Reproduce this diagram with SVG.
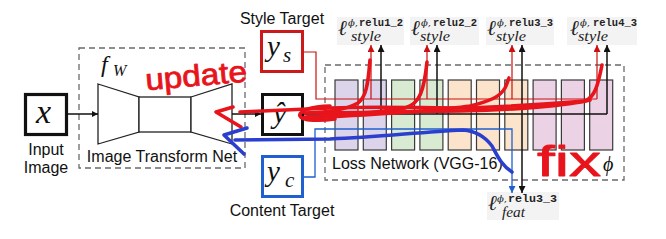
<svg xmlns="http://www.w3.org/2000/svg" width="666" height="239" viewBox="0 0 666 239">
<defs>
<style>
.lbl{font-family:"Liberation Sans",Arial,sans-serif;font-size:16px;fill:#111}
.math{font-family:"Liberation Serif","DejaVu Serif",serif;font-style:italic;fill:#111}
.ml{fill:#222}
.ell{font-family:"DejaVu Serif","Liberation Serif",serif;font-style:italic;font-size:21px}
.phi{font-family:"DejaVu Serif","Liberation Serif",serif;font-style:italic;font-size:10px}
.relu{font-family:"Liberation Mono","DejaVu Sans Mono",monospace;font-style:normal;font-weight:bold;font-size:11px}
.sub{font-family:"Liberation Serif","DejaVu Serif",serif;font-style:italic;font-size:14px}
.dash{fill:none;stroke:#6a6a6a;stroke-width:1.3;stroke-dasharray:6 4}
.blk{stroke:#3a3a3a;stroke-width:1.2}
.bg{fill:#f3f3f3}
.k{fill:none;stroke:#111;stroke-width:1.5}
.r{fill:none;stroke:#cc1010;stroke-width:1.2}
.b{fill:none;stroke:#1f5fd0;stroke-width:1.3}
.scr{fill:none;stroke:#e8141c;stroke-width:3.6;stroke-linecap:round;stroke-linejoin:round}
.scb{fill:none;stroke:#2b3fcf;stroke-width:3.6;stroke-linecap:round;stroke-linejoin:round}
.hand{font-family:"Liberation Sans",Arial,sans-serif;fill:#e8141c;stroke:#e8141c;stroke-width:0.8;stroke-linejoin:round}
</style>
<marker id="ak" viewBox="0 0 10 10" refX="10" refY="5" markerWidth="6" markerHeight="6" markerUnits="userSpaceOnUse" orient="auto"><path d="M0,0 L10,5 L0,10 z" fill="#111"/></marker>
<marker id="ak2" viewBox="0 0 10 10" refX="10" refY="5" markerWidth="7" markerHeight="7" markerUnits="userSpaceOnUse" orient="auto"><path d="M0,0 L10,5 L0,10 z" fill="#111"/></marker>
<marker id="ar" viewBox="0 0 10 10" refX="10" refY="5" markerWidth="7" markerHeight="7" markerUnits="userSpaceOnUse" orient="auto"><path d="M0,0 L10,5 L0,10 z" fill="#cc1010"/></marker>
<marker id="ab" viewBox="0 0 10 10" refX="10" refY="5" markerWidth="7" markerHeight="7" markerUnits="userSpaceOnUse" orient="auto"><path d="M0,0 L10,5 L0,10 z" fill="#1f5fd0"/></marker>
</defs>
<rect width="666" height="239" fill="#fff"/>

<g id="node-loss-network">
<rect class="dash" x="325" y="65" width="299" height="115"/>
<rect class="blk" x="335" y="80" width="23" height="70" fill="#dcd4ea"/>
<rect class="blk" x="363.3" y="80" width="23" height="70" fill="#dcd4ea"/>
<rect class="blk" x="391.6" y="80" width="23" height="70" fill="#d8ebd2"/>
<rect class="blk" x="419.9" y="80" width="23" height="70" fill="#d8ebd2"/>
<rect class="blk" x="448.2" y="80" width="23" height="70" fill="#fbe4cb"/>
<rect class="blk" x="476.5" y="80" width="23" height="70" fill="#fbe4cb"/>
<rect class="blk" x="504.8" y="80" width="23" height="70" fill="#fbe4cb"/>
<rect class="blk" x="533.1" y="80" width="23" height="70" fill="#ebd2e4"/>
<rect class="blk" x="561.4" y="80" width="23" height="70" fill="#ebd2e4"/>
<rect class="blk" x="589.7" y="80" width="23" height="70" fill="#ebd2e4"/>
<text class="lbl" x="332" y="169">Loss Network (VGG-16)</text>
<text class="math" x="603" y="171" font-size="20">ϕ</text>
</g>

<g id="node-input">
<rect x="25.5" y="94.5" width="41" height="40" fill="#fff" stroke="#111" stroke-width="3.2"/>
<text class="math" x="36" y="123" font-size="34">x</text>
<text class="lbl" x="46" y="155" text-anchor="middle">Input</text>
<text class="lbl" x="46" y="173" text-anchor="middle">Image</text>
</g>

<g id="node-transform-net">
<rect class="dash" x="79" y="48" width="166" height="120"/>
<text class="math" x="101" y="72" font-size="24">f<tspan x="113" y="76" font-size="16">W</tspan></text>
<path d="M98,84 L139,97 L139,132 L98,144 Z" fill="#fff" stroke="#222" stroke-width="1.3"/>
<rect x="139" y="97" width="52" height="35" fill="#fff" stroke="#222" stroke-width="1.3"/>
<path d="M191,97 L232,84 L232,144 L191,132 Z" fill="#fff" stroke="#222" stroke-width="1.3"/>
<text class="lbl" x="162" y="162" text-anchor="middle">Image Transform Net</text>
</g>

<g id="node-yhat">
<rect x="262.5" y="94.5" width="40" height="40" fill="#fff" stroke="#111" stroke-width="3"/>
<text class="math" x="273" y="123" font-size="30">ŷ</text>
</g>

<g id="node-style-target">
<text class="lbl" x="282" y="24" text-anchor="middle">Style Target</text>
<rect x="261.5" y="31.5" width="41" height="40" fill="#fff" stroke="#cc1a1a" stroke-width="3"/>
<text class="math" x="267" y="56" font-size="29">y<tspan x="283" y="62" font-size="21">s</tspan></text>
</g>

<g id="node-content-target">
<rect x="262.5" y="156.5" width="40" height="40" fill="#fff" stroke="#1f5fd0" stroke-width="3"/>
<text class="math" x="267" y="181" font-size="29">y<tspan x="285" y="187" font-size="21">c</tspan></text>
<text class="lbl" x="282" y="216" text-anchor="middle">Content Target</text>
</g>

<g id="loss-labels">
<rect class="bg" x="337" y="17" width="67" height="28"/>
<text class="ml ell" x="338" y="35">ℓ<tspan class="phi" x="348" y="26">ϕ,</tspan><tspan class="relu" x="359" y="26" textLength="44" lengthAdjust="spacingAndGlyphs">relu1_2</tspan><tspan class="sub" x="351" y="41" textLength="30" lengthAdjust="spacingAndGlyphs">style</tspan></text>

<rect class="bg" x="410" y="17" width="69" height="28"/>
<text class="ml ell" x="411" y="35">ℓ<tspan class="phi" x="421" y="26">ϕ,</tspan><tspan class="relu" x="433" y="26" textLength="44" lengthAdjust="spacingAndGlyphs">relu2_2</tspan><tspan class="sub" x="420" y="41" textLength="30" lengthAdjust="spacingAndGlyphs">style</tspan></text>

<rect class="bg" x="486" y="17" width="68" height="28"/>
<text class="ml ell" x="487" y="35">ℓ<tspan class="phi" x="497" y="26">ϕ,</tspan><tspan class="relu" x="509" y="26" textLength="44" lengthAdjust="spacingAndGlyphs">relu3_3</tspan><tspan class="sub" x="496" y="41" textLength="30" lengthAdjust="spacingAndGlyphs">style</tspan></text>

<rect class="bg" x="567" y="17" width="70" height="28"/>
<text class="ml ell" x="570" y="35">ℓ<tspan class="phi" x="580" y="26">ϕ,</tspan><tspan class="relu" x="593" y="26" textLength="44" lengthAdjust="spacingAndGlyphs">relu4_3</tspan><tspan class="sub" x="578" y="41" textLength="30" lengthAdjust="spacingAndGlyphs">style</tspan></text>

<rect class="bg" x="487" y="192" width="72" height="28"/>
<text class="ml ell" x="488" y="210">ℓ<tspan class="phi" x="497" y="202">ϕ,</tspan><tspan class="relu" x="508" y="202" textLength="49" lengthAdjust="spacingAndGlyphs">relu3_3</tspan><tspan class="sub" x="502" y="217" textLength="23" lengthAdjust="spacingAndGlyphs">feat</tspan></text>
</g>

<g id="connectors">
<line class="k" x1="68" y1="114" x2="98" y2="114" marker-end="url(#ak)"/>
<line class="k" x1="232" y1="114" x2="261" y2="114" marker-end="url(#ak)"/>
<path class="r" d="M304,52 H316 V99 H597"/>
<line class="r" x1="371" y1="99" x2="371" y2="45" marker-end="url(#ar)"/>
<line class="r" x1="427" y1="99" x2="427" y2="45" marker-end="url(#ar)"/>
<line class="r" x1="512" y1="99" x2="512" y2="45" marker-end="url(#ar)"/>
<line class="r" x1="597" y1="99" x2="597" y2="45" marker-end="url(#ar)"/>
<path class="k" d="M304,114 H607"/>
<line class="k" x1="381" y1="114" x2="381" y2="45" marker-end="url(#ak2)"/>
<line class="k" x1="437" y1="114" x2="437" y2="45" marker-end="url(#ak2)"/>
<line class="k" x1="522" y1="114" x2="522" y2="45" marker-end="url(#ak2)"/>
<line class="k" x1="607" y1="114" x2="607" y2="45" marker-end="url(#ak2)"/>
<line class="k" x1="522" y1="114" x2="522" y2="193" marker-end="url(#ak2)"/>
<path class="b" d="M304,177 H315 V129 H512 V193" marker-end="url(#ab)"/>
</g>

<g id="annotations">
<text class="hand" x="145" y="86" font-size="30" textLength="102" lengthAdjust="spacingAndGlyphs" transform="rotate(-5 195 75)">update</text>
<path class="scr" d="M233,107 L216,112 L241,127"/>
<path class="scr" d="M240,112 L330,108 C 380,106 420,108 470,108 C 520,106 560,103 585,101 C 595,97 598,85 602,65"/>
<path class="scr" d="M330,106 C 310,106 298,112 300,116 C 302,121 320,121 335,119"/>
<path class="scr" d="M305,113 C 330,112 345,110 358,103 C 366,97 368,85 370,60"/>
<path class="scr" d="M305,117 C 340,115 380,113 405,108 C 420,104 424,90 427,62"/>
<path class="scr" d="M310,118 C 360,115 430,112 470,106 C 490,101 500,97 505,88 C 507,84 508,80 509,78"/>
<path class="scr" d="M320,113 C 380,112 430,111 460,111 C 520,110 570,105 590,100"/>
<text class="hand" x="537" y="176" font-size="42" textLength="64" lengthAdjust="spacingAndGlyphs">fix</text>
<path class="scb" d="M247,128 L224,135 L244,154"/>
<path class="scb" d="M235,140 L330,139 C 380,137 420,132 463,130 C 478,131 486,138 492,146 C 497,155 501,165 512,172"/>
</g>
</svg>
